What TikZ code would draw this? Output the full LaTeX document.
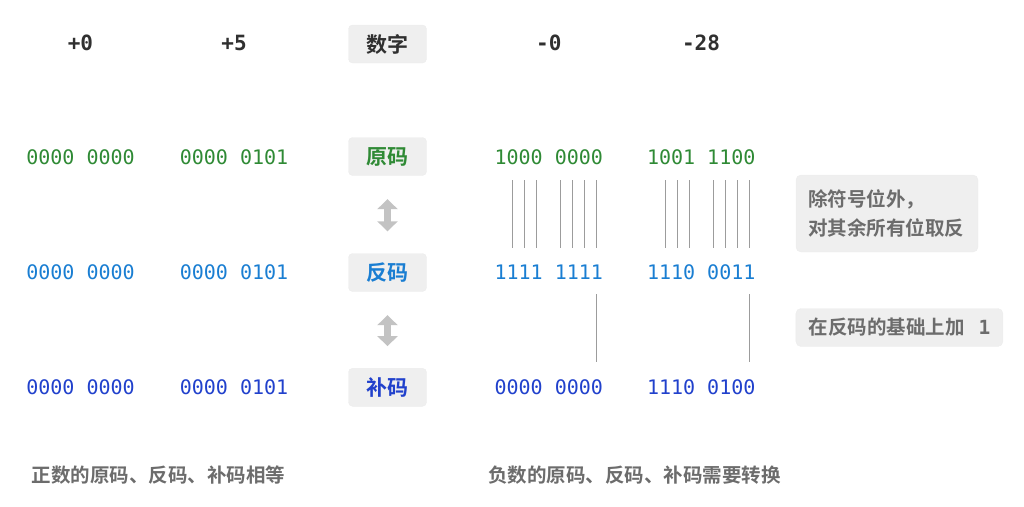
\documentclass[tikz,border=0pt]{standalone}
\usepackage{fontspec}
\usepackage{tikz}
\usepackage{xcolor}
\usetikzlibrary{arrows.meta,calc}

\newfontfamily\cjk{Noto Sans CJK SC}[BoldFont={* Bold}]
\newfontfamily\mono{DejaVu Sans Mono}

\definecolor{origgreen}{HTML}{2F8A35}
\definecolor{invblue}{HTML}{1A7ED2}
\definecolor{compblue}{HTML}{2141CC}
\definecolor{boxgray}{HTML}{EFEFEF}
\definecolor{notegray}{HTML}{6C6C6C}
\definecolor{linegray}{HTML}{9C9C9C}
\definecolor{arrowgray}{HTML}{C3C3C3}
\definecolor{headdark}{HTML}{303030}

\begin{document}
\begin{tikzpicture}[x=1pt,y=-1pt,
    bits/.style={font=\mono\fontsize{20}{24}\selectfont, inner sep=0pt},
    head/.style={font=\mono\bfseries\fontsize{21}{24}\selectfont, text=headdark, inner sep=0pt},
    kind/.style={fill=boxgray, draw=black!7, rounded corners=4pt, minimum width=78pt,
        minimum height=38pt, inner sep=0pt, font=\cjk\bfseries\fontsize{21}{24}\selectfont},
    note/.style={fill=boxgray, draw=black!7, rounded corners=5pt, inner sep=0pt,
        font=\cjk\bfseries\fontsize{19.5}{29}\selectfont, text=notegray, align=left},
    caption/.style={font=\cjk\bfseries\fontsize{19.5}{24}\selectfont, text=notegray, inner sep=0pt},
    bitline/.style={draw=linegray, line width=1.2pt},
    convert/.style={draw=arrowgray, line width=7pt, shorten <=23.5pt, shorten >=22pt,
        {Triangle[width=20pt,length=10pt]}-{Triangle[width=20pt,length=10pt]}}]

    \useasboundingbox (0,0) rectangle (1024,506);

    % Numbers
    \node[head] (h1) at (80.5,43) {+0};
    \node[head] (h2) at (234,43) {+5};
    \node[kind, text=headdark] (num) at (387.5,44) {数字};
    \node[head] (h3) at (548.8,43) {-0};
    \node[head] (h4) at (701,43) {-28};

    % Sign-magnitude
    \node[bits, text=origgreen] (o1) at (80.5,157) {0000 0000};
    \node[bits, text=origgreen] (o2) at (234,157) {0000 0101};
    \node[kind, text=origgreen] (orig) at (387.5,156.5) {原码};
    \node[bits, text=origgreen] (o3) at (548.8,157) {1000 0000};
    \node[bits, text=origgreen] (o4) at (701.2,157) {1001 1100};

    % Ones' complement
    \node[bits, text=invblue] (f1) at (80.5,272) {0000 0000};
    \node[bits, text=invblue] (f2) at (234,272) {0000 0101};
    \node[kind, text=invblue] (inv) at (387.5,272.5) {反码};
    \node[bits, text=invblue] (f3) at (548.8,272) {1111 1111};
    \node[bits, text=invblue] (f4) at (701.2,272) {1110 0011};

    % Two's complement
    \node[bits, text=compblue] (c1) at (80.5,387) {0000 0000};
    \node[bits, text=compblue] (c2) at (234,387) {0000 0101};
    \node[kind, text=compblue] (comp) at (387.5,387.3) {补码};
    \node[bits, text=compblue] (c3) at (548.8,387) {0000 0000};
    \node[bits, text=compblue] (c4) at (701.2,387) {1110 0100};

    % Arrows between the codes
    \draw[convert] (orig) -- (inv);
    \draw[convert] (inv) -- (comp);

    % Flipped bits
    \foreach \k in {1,2,3,5,6,7,8} {
        \draw[bitline] ($(o3.center)+(\k*12-48,23)$) -- ($(f3.center)+(\k*12-48,-24)$);
        \draw[bitline] ($(o4.center)+(\k*12-48,23)$) -- ($(f4.center)+(\k*12-48,-24)$);
    }

    % Plus one
    \draw[bitline] ($(f3.center)+(48,22)$) -- ($(c3.center)+(48,-25)$);
    \draw[bitline] ($(f4.center)+(48,22)$) -- ($(c4.center)+(48,-25)$);

    % Notes
    \node[note, minimum width=182pt, minimum height=77pt, text width=158pt] (flip) at (887,213.5)
        {除符号位外，\\对其余所有位取反};
    \node[note, minimum width=207pt, minimum height=38pt] (plus) at (899.4,327.5)
        {在反码的基础上加\hspace{14pt}{\mono\bfseries 1}};

    % Captions
    \node[caption] (pos) at (158.5,475) {正数的原码、反码、补码相等};
    \node[caption] (neg) at (634.5,475) {负数的原码、反码、补码需要转换};
\end{tikzpicture}
\end{document}
